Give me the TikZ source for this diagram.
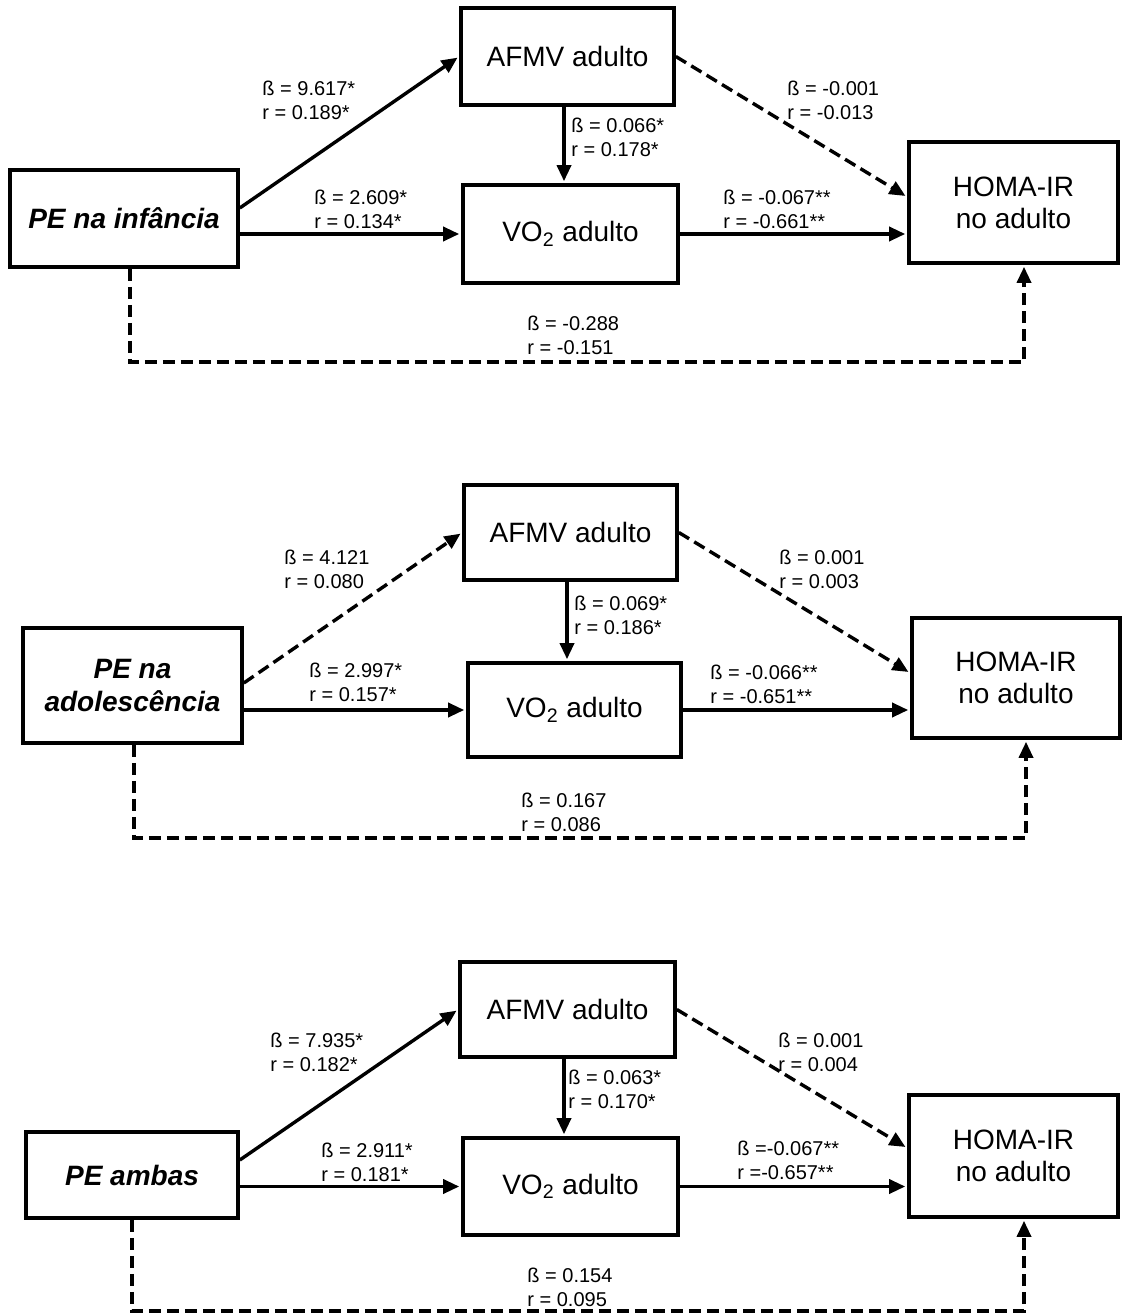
\documentclass[tikz,border=0pt]{standalone}
\usepackage{fontspec}
\setmainfont{Liberation Sans}
\usetikzlibrary{arrows.meta}

\tikzset{
    box/.style={draw, line width=1.8pt, align=center, inner sep=0pt,
        font=\fontsize{14}{16}\selectfont},
    exposure/.style={box, font=\fontsize{14}{16.5}\selectfont\bfseries\itshape},
    coef/.style={align=left, inner sep=0pt, anchor=north west,
        font=\fontsize{10}{12}\selectfont},
    link/.style={-{Triangle[length=8pt,width=7pt]}, line width=1.7pt, shorten >=1pt},
    nslink/.style={link, dash pattern=on 6pt off 3pt}
}

\begin{document}
\begin{tikzpicture}[x=0.5pt, y=-0.5pt]
    \useasboundingbox (0,0) rectangle (1121,1315);

    \node[exposure, minimum width=114pt, minimum height=48.5pt] (pe1) at (124,218.5)
        {PE na infância};
    \node[box, minimum width=106.5pt, minimum height=48.5pt] (afmv1) at (567.5,56.5)
        {AFMV adulto};
    \node[box, minimum width=107.5pt, minimum height=49pt] (vo1) at (570.5,234)
        {VO\textsubscript{2} adulto};
    \node[box, minimum width=104.5pt, minimum height=60.5pt] (homa1) at (1013.5,202.5)
        {HOMA-IR\\no adulto};
    \coordinate (base1) at (0,362);
    \node[coef] (c1a) at (262,80.5) {ß = 9.617*\\r = 0.189*};
    \node[coef] (c1b) at (314,189.5) {ß = 2.609*\\r = 0.134*};
    \node[coef] (c1c) at (571,117.5) {ß = 0.066*\\r = 0.178*};
    \node[coef] (c1d) at (787,80.5) {ß = -0.001\\r = -0.013};
    \node[coef] (c1e) at (723,189.5) {ß = -0.067**\\r = -0.661**};
    \node[coef] (c1f) at (527,315.5) {ß = -0.288\\r = -0.151};
    \draw[link] ([yshift=5.25pt]pe1.east) -- (afmv1.west);
    \draw[link] (pe1.east |- vo1.west) -- (vo1.west);
    \draw[link] ([xshift=-1.75pt]afmv1.south) -- ([xshift=-1.75pt]afmv1.south |- vo1.north);
    \draw[link] (vo1.east) -- (vo1.east -| homa1.west);
    \draw[nslink] (afmv1.east) -- ([yshift=2.75pt]homa1.west);
    \draw[nslink] ([xshift=3pt]pe1.south) -- ([xshift=3pt]pe1.south |- base1)
        -| ([xshift=5.25pt]homa1.south);

    \node[exposure, minimum width=109.5pt, minimum height=57.5pt] (pe2) at (132.5,685.5)
        {PE na\\adolescência};
    \node[box, minimum width=106.5pt, minimum height=47.5pt] (afmv2) at (570.5,532.5)
        {AFMV adulto};
    \node[box, minimum width=106.5pt, minimum height=47pt] (vo2) at (574.5,710)
        {VO\textsubscript{2} adulto};
    \node[box, minimum width=104pt, minimum height=60pt] (homa2) at (1016,678)
        {HOMA-IR\\no adulto};
    \coordinate (base2) at (0,838);
    \node[coef] (c2a) at (284,549.5) {ß = 4.121\\r = 0.080};
    \node[coef] (c2b) at (309,662.5) {ß = 2.997*\\r = 0.157*};
    \node[coef] (c2c) at (574,595.5) {ß = 0.069*\\r = 0.186*};
    \node[coef] (c2d) at (779,549.5) {ß = 0.001\\r = 0.003};
    \node[coef] (c2e) at (710,664.5) {ß = -0.066**\\r = -0.651**};
    \node[coef] (c2f) at (521,792.5) {ß = 0.167\\r = 0.086};
    \draw[nslink] ([yshift=1.25pt]pe2.east) -- (afmv2.west);
    \draw[link] (pe2.east |- vo2.west) -- (vo2.west);
    \draw[link] ([xshift=-1.75pt]afmv2.south) -- ([xshift=-1.75pt]afmv2.south |- vo2.north);
    \draw[link] (vo2.east) -- (vo2.east -| homa2.west);
    \draw[nslink] (afmv2.east) -- ([yshift=2.5pt]homa2.west);
    \draw[nslink] ([xshift=0.75pt]pe2.south) -- ([xshift=0.75pt]pe2.south |- base2)
        -| ([xshift=5pt]homa2.south);

    \node[exposure, minimum width=106pt, minimum height=43pt] (pe3) at (132,1175)
        {PE ambas};
    \node[box, minimum width=107.5pt, minimum height=47.5pt] (afmv3) at (567.5,1009.5)
        {AFMV adulto};
    \node[box, minimum width=107.5pt, minimum height=48.5pt] (vo3) at (570.5,1186.5)
        {VO\textsubscript{2} adulto};
    \node[box, minimum width=104.5pt, minimum height=61pt] (homa3) at (1013.5,1156)
        {HOMA-IR\\no adulto};
    \coordinate (base3) at (0,1311);
    \node[coef] (c3a) at (270,1032.5) {ß = 7.935*\\r = 0.182*};
    \node[coef] (c3b) at (321,1142.5) {ß = 2.911*\\r = 0.181*};
    \node[coef] (c3c) at (568,1069.5) {ß = 0.063*\\r = 0.170*};
    \node[coef] (c3d) at (778,1032.5) {ß = 0.001\\r = 0.004};
    \node[coef] (c3e) at (737,1140.5) {ß =-0.067**\\r =-0.657**};
    \node[coef] (c3f) at (527,1267.5) {ß = 0.154\\r = 0.095};
    \draw[link] ([yshift=7.5pt]pe3.east) -- (afmv3.west);
    \draw[link] (pe3.east |- vo3.west) -- (vo3.west);
    \draw[link] ([xshift=-1.75pt]afmv3.south) -- ([xshift=-1.75pt]afmv3.south |- vo3.north);
    \draw[link] (vo3.east) -- (vo3.east -| homa3.west);
    \draw[nslink] (afmv3.east) -- ([yshift=4pt]homa3.west);
    \draw[nslink] (pe3.south) -- (pe3.south |- base3)
        -| ([xshift=5.25pt]homa3.south);
\end{tikzpicture}
\end{document}
